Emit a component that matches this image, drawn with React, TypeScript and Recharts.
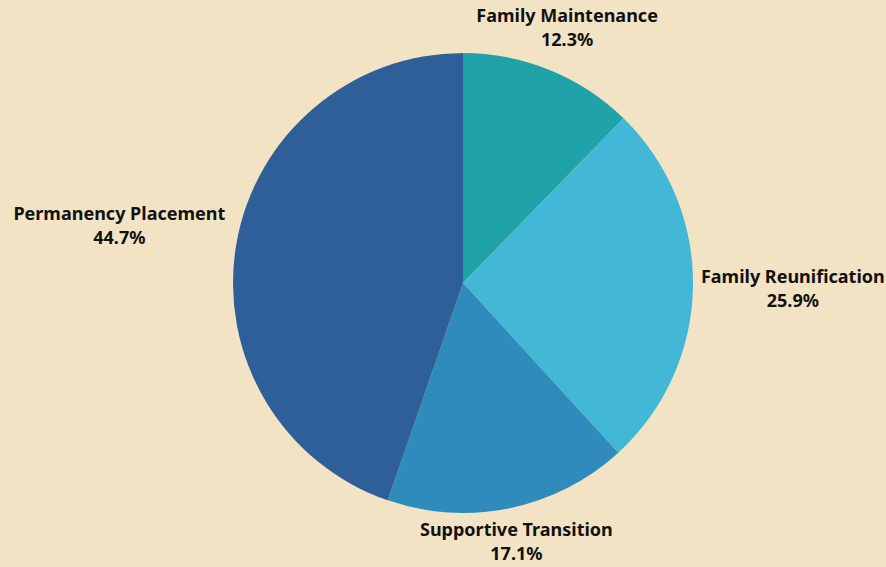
import React from "react";
import { PieChart, Pie, Cell } from "recharts";

const categories = ["Family Maintenance", "Family Reunification", "Supportive Transition", "Permanency Placement"];
const shares = [12.3, 25.9, 17.1, 44.7];
const colors = ["#1FA3A9", "#42B7D6", "#2E8BBB", "#2F5F99"];

const data = categories.map((name, i) => ({ name, value: shares[i] }));

const FONT = "bold 18px 'Noto Sans'";
let ctx: CanvasRenderingContext2D | null = null;
function measure(t: string): number {
  if (!ctx) {
    const c = document.createElement("canvas");
    ctx = c.getContext("2d");
  }
  if (!ctx) return t.length * 10;
  ctx.font = FONT;
  return ctx.measureText(t).width;
}

const RAD = Math.PI / 180;

function renderLabel(props: any) {
  const { cx, cy, midAngle, outerRadius, payload, index } = props;
  const name = payload?.name ?? categories[index];
  const val = shares[index];
  const pct = `${val.toFixed(1)}%`;
  const w = Math.max(measure(name), measure(pct));
  const halfW = w / 2;
  const c = Math.cos(-midAngle * RAD);
  const s = Math.sin(-midAngle * RAD);
  const halfH = 13;
  const gap = c < -0.9 ? 14 : c > 0.9 ? 8 : 10;
  const dist = outerRadius + gap + Math.sqrt((c * halfW) ** 2 + (s * halfH) ** 2);
  const x = cx + dist * c;
  const y = cy + dist * s;
  return (
    <text
      x={x}
      y={y}
      textAnchor="middle"
      fill="#111111"
      style={{ font: FONT }}
    >
      <tspan x={x} dy={-5}>{name}</tspan>
      <tspan x={x} dy={24}>{pct}</tspan>
    </text>
  );
}

export default function App() {
  return (
    <div
      style={{
        position: "absolute",
        left: 0,
        top: 0,
        width: 886,
        height: 567,
        background: "#F1E3C3",
        overflow: "hidden",
      }}
    >
      <PieChart width={886} height={567} margin={{ top: 0, right: 0, bottom: 0, left: 0 }}>
        <Pie
          data={data}
          dataKey="value"
          nameKey="name"
          cx={463}
          cy={283}
          outerRadius={230}
          startAngle={90}
          endAngle={-270}
          stroke="none"
          label={renderLabel}
          labelLine={false}
          isAnimationActive={false}
        >
          {data.map((d, i) => (
            <Cell key={d.name} fill={colors[i]} />
          ))}
        </Pie>
      </PieChart>
    </div>
  );
}
